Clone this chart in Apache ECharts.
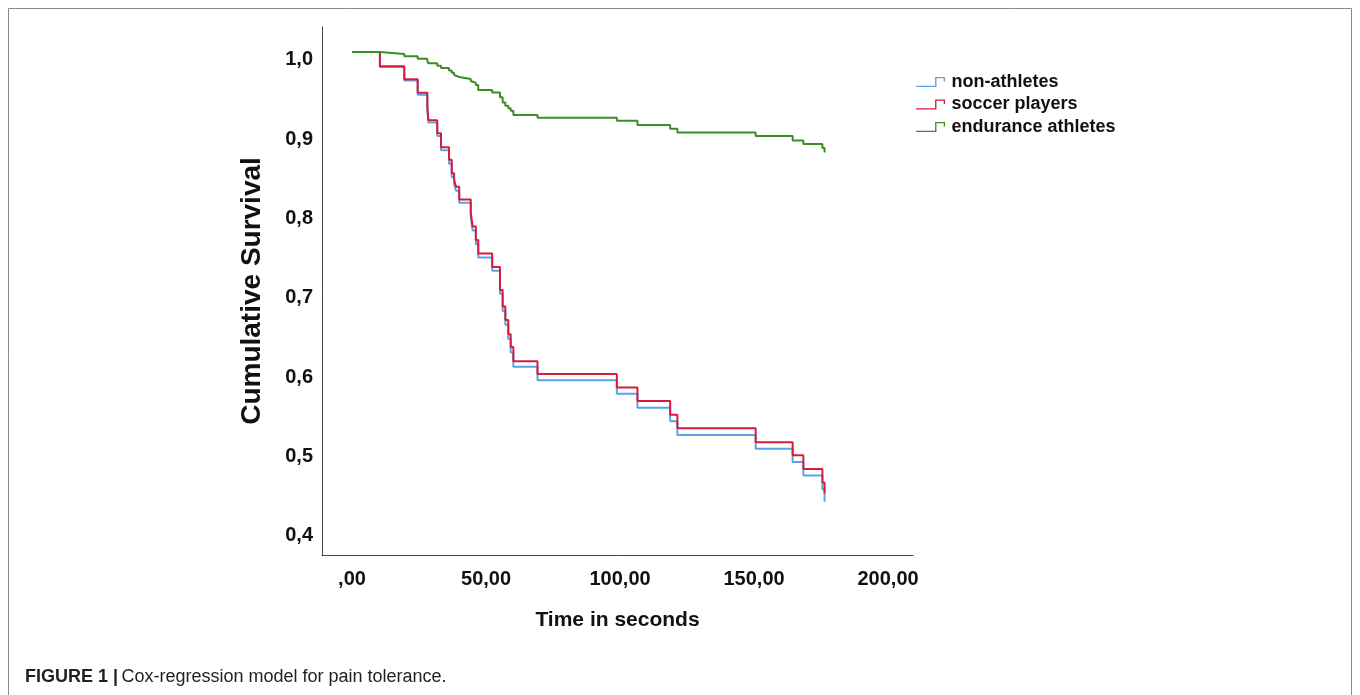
<!DOCTYPE html>
<html>
<head>
<meta charset="utf-8">
<title>Cox-regression model for pain tolerance</title>
<script src="https://cdn.jsdelivr.net/npm/echarts@6/dist/echarts.min.js"></script>
<style>
  html, body { margin: 0; padding: 0; background: #fff; }
  #chart { width: 1360px; height: 695px; }
</style>
</head>
<body>
<div id="chart"></div>
<script>
// event times (seconds) shared by all three curves
const times = [0, 10.4, 19.5, 24.5, 28.1, 28.5, 31.8, 33.2, 36.2, 37.2, 38.1, 38.8, 40.0,
  44.3, 45.0, 46.2, 47.1, 52.3, 55.2, 56.2, 57.2, 58.3, 59.2, 60.2, 69.2, 98.8, 106.5,
  118.7, 121.4, 150.6, 164.4, 168.4, 175.5, 176.3];

const nonAthletes = [1.0, 0.981, 0.964, 0.946, 0.928, 0.911, 0.894, 0.876, 0.859, 0.842, 0.833, 0.825, 0.810,
  0.792, 0.775, 0.758, 0.741, 0.724, 0.695, 0.673, 0.656, 0.638, 0.621, 0.603, 0.586, 0.569, 0.5515,
  0.5343, 0.517, 0.4998, 0.483, 0.466, 0.4486, 0.433];

const soccerPlayers = [1.0, 0.982, 0.9656, 0.9487, 0.931, 0.914, 0.8975, 0.880, 0.864, 0.847, 0.839, 0.830, 0.814,
  0.797, 0.780, 0.763, 0.746, 0.729, 0.700, 0.679, 0.662, 0.644, 0.628, 0.610, 0.594, 0.577, 0.560,
  0.5427, 0.5255, 0.508, 0.4914, 0.474, 0.457, 0.4435];

const enduranceAthletes = [1.0, 0.9975, 0.9945, 0.9916, 0.9887, 0.9857, 0.9827, 0.9798, 0.9768, 0.9739, 0.971, 0.9685, 0.966,
  0.9634, 0.961, 0.9584, 0.952, 0.949, 0.9428, 0.9364, 0.9323, 0.9289, 0.926, 0.9206, 0.9172, 0.9134, 0.908,
  0.9033, 0.8986, 0.894, 0.8885, 0.884, 0.879, 0.8734];

const groupNames = ['non-athletes', 'soccer players', 'endurance athletes'];
const groupColors = ['#5aa3e8', '#d81b3d', '#3c8c27'];
const yTicks = [0.4, 0.5, 0.6, 0.7, 0.8, 0.9, 1.0];
const xTicks = [0, 50, 100, 150, 200];

const FONT = "'Liberation Sans', Arial, sans-serif";
// step-shaped legend key: low run, rise, short high run, small drop at the end
const stepIcon = 'path://M0,9.5 L21,9.5 L21,0 L32,0 L32,5 L30.5,5 L30.5,1.5 L22.5,1.5 L22.5,11 L0,11 Z';

const chart = echarts.init(document.getElementById('chart'));

const seriesData = [nonAthletes, soccerPlayers, enduranceAthletes];

const option = {
  backgroundColor: '#fff',
  animation: false,
  grid: { left: 322, top: 27, right: 447, bottom: 140 },
  legend: {
    orient: 'vertical',
    left: 916,
    top: 73,
    padding: 0,
    itemWidth: 32,
    itemHeight: 10,
    itemGap: 4.5,
    icon: stepIcon,
    itemStyle: { borderWidth: 0 },
    data: groupNames,
    textStyle: { fontFamily: FONT, fontWeight: 'bold', fontSize: 18, color: '#111', lineHeight: 18 }
  },
  xAxis: {
    type: 'value',
    min: -11.2,
    max: 209.3,
    name: 'Time in seconds',
    nameLocation: 'middle',
    nameGap: 55,
    nameTextStyle: { fontFamily: FONT, fontWeight: 'bold', fontSize: 21, color: '#111' },
    axisLine: { show: true, onZero: false, lineStyle: { color: '#444', width: 1 } },
    axisTick: { show: false },
    splitLine: { show: false },
    axisLabel: {
      customValues: xTicks,
      margin: 14,
      fontFamily: FONT, fontWeight: 'bold', fontSize: 20, color: '#111',
      formatter: v => v === 0 ? ',00' : v.toFixed(2).replace('.', ',')
    }
  },
  yAxis: {
    type: 'value',
    min: 0.3657,
    max: 1.0315,
    name: 'Cumulative Survival',
    nameLocation: 'middle',
    nameGap: 56,
    nameRotate: 90,
    nameTextStyle: { fontFamily: FONT, fontWeight: 'bold', fontSize: 28, color: '#111' },
    axisLine: { show: true, onZero: false, lineStyle: { color: '#444', width: 1 } },
    axisTick: { show: false },
    splitLine: { show: false },
    axisLabel: {
      customValues: yTicks,
      margin: 9,
      formatter: v => '{t|' + v.toFixed(1).replace('.', ',') + '}',
      rich: {
        t: { fontFamily: FONT, fontWeight: 'bold', fontSize: 20, color: '#111', padding: [16, 0, 0, 0] }
      }
    }
  },
  series: groupNames.map((name, i) => ({
    name: name,
    type: 'line',
    step: 'end',
    symbol: 'none',
    color: groupColors[i],
    itemStyle: { color: groupColors[i] },
    lineStyle: { color: groupColors[i], width: 2 },
    z: 2 + i,
    data: times.map((t, k) => [t, seriesData[i][k]])
  })),
  graphic: [
    {
      type: 'rect',
      silent: true,
      shape: { x: 8.5, y: 8.5, width: 1343, height: 720 },
      style: { fill: 'none', stroke: '#8a8a8a', lineWidth: 1 }
    },
    {
      type: 'text',
      left: 25,
      top: 668,
      style: {
        text: '{b|FIGURE 1 |} {n|Cox-regression model for pain tolerance.}',
        rich: {
          b: { fontFamily: FONT, fontWeight: 'bold', fontSize: 18, fill: '#231f20' },
          n: { fontFamily: FONT, fontSize: 18, fill: '#231f20' }
        }
      }
    }
  ]
};

chart.setOption(option);
</script>
</body>
</html>
